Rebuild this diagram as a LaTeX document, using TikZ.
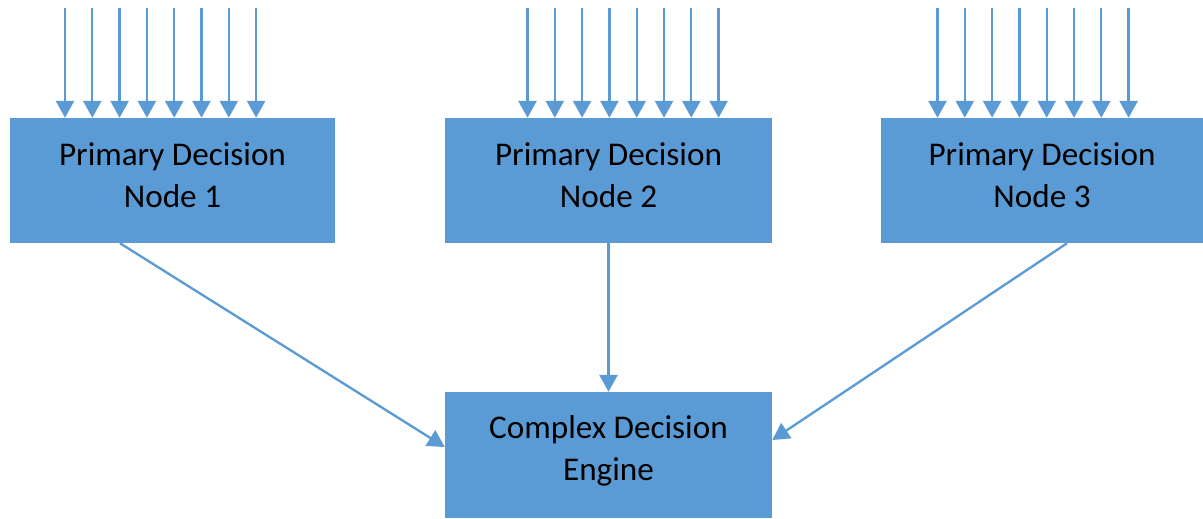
\documentclass[tikz,border=0pt]{standalone}
\usepackage{fontspec}
\setmainfont{Carlito}
\usetikzlibrary{arrows.meta,calc}
\definecolor{boxblue}{HTML}{5B9BD5}
\tikzset{
    decision/.style={fill=boxblue, draw=none, inner sep=0pt, align=center,
        minimum height=3.75cm, text depth=0.3cm,
        font=\fontsize{28.3}{35.8}\selectfont},
    feed/.style={draw=boxblue, line width=2pt,
        -{Triangle[width=15.5pt,length=14.5pt]}},
}
\begin{document}
\begin{tikzpicture}[x=0.03cm, y=0.03cm]
    \useasboundingbox (0,0) rectangle (1203,518);

    \node[decision, minimum width=9.75cm] (n1) at (172.5,337.5) {Primary Decision\\Node 1};
    \node[decision, minimum width=9.81cm] (n2) at (608.5,337.5) {Primary Decision\\Node 2};
    \node[decision, minimum width=9.66cm] (n3) at (1042,337.5) {Primary Decision\\Node 3};
    \node[decision, minimum width=9.81cm, minimum height=3.78cm, text depth=0.43cm] (eng) at (608.5,63) {Complex Decision\\Engine};

    % eight inputs above each primary node
    \foreach \b/\s in {n1/65, n2/527.5, n3/937.5}
        \foreach \i in {0,...,7} {
            \coordinate (in-\b-\i) at ({\s+27.3*\i},510);
            \draw[feed] (in-\b-\i) -- (in-\b-\i |- \b.north);
        }

    \draw[feed] ($(n1.south)+(-52.5,0)$) -- ($(eng.west)+(0,8)$);
    \draw[feed] (n2.south) -- (eng.north);
    \draw[feed] ($(n3.south)+(25,0)$) -- ($(eng.east)+(0,15)$);
\end{tikzpicture}
\end{document}
